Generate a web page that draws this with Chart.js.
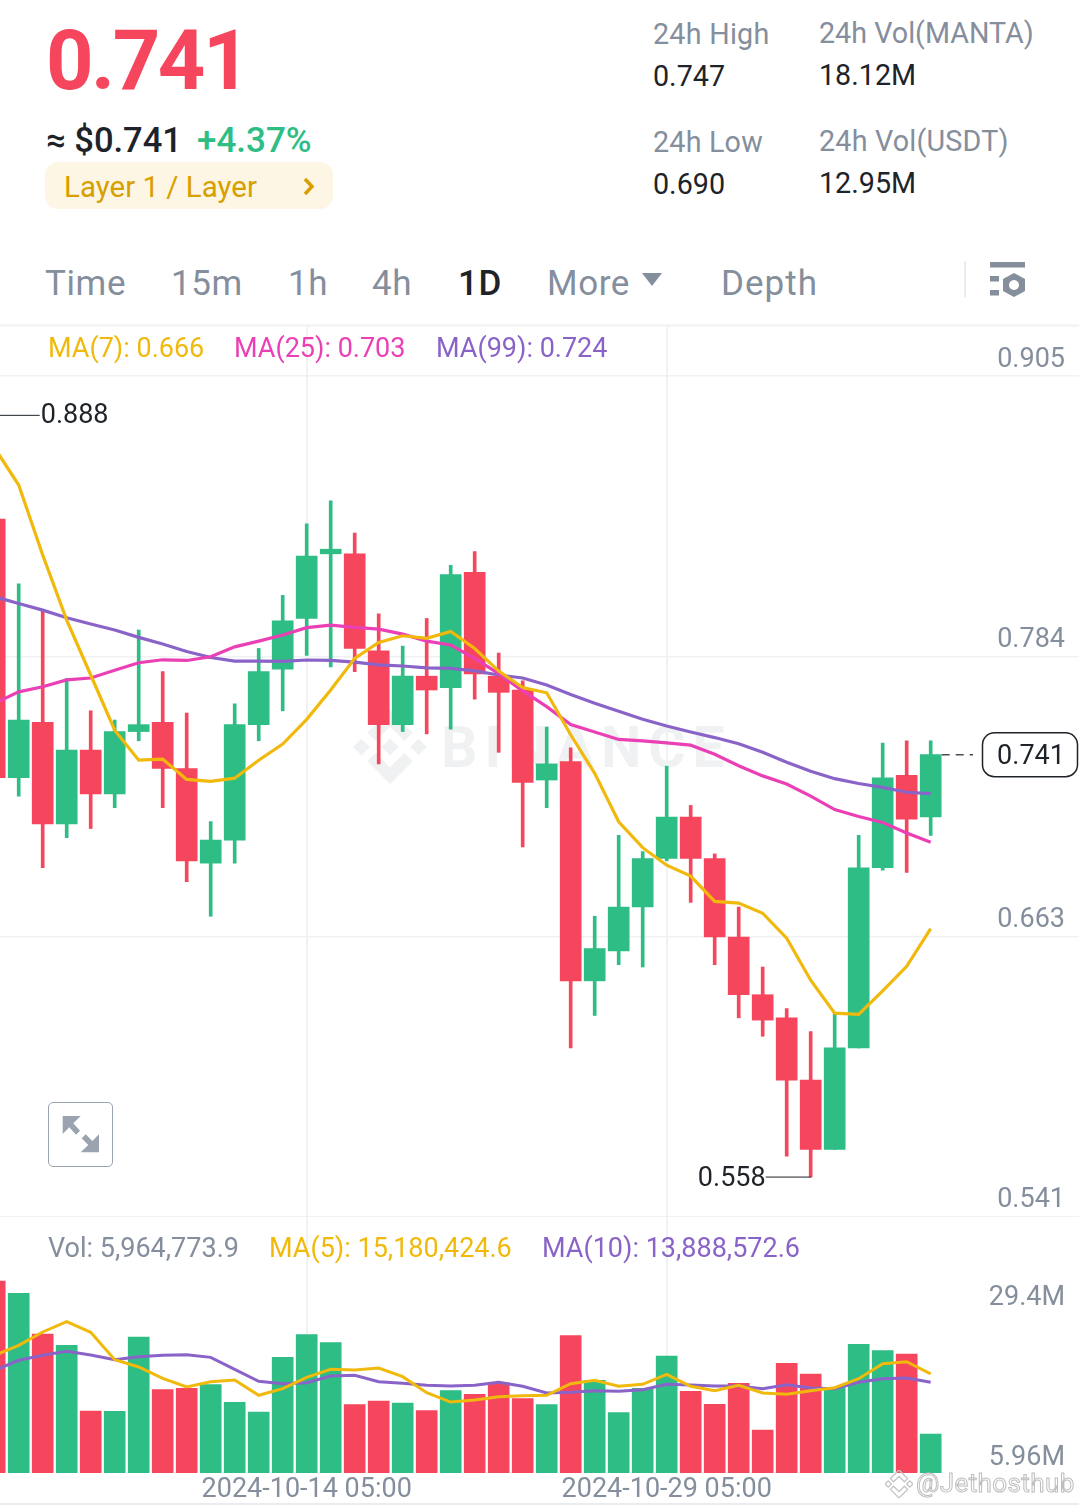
<!DOCTYPE html>
<html>
<head>
<meta charset="utf-8">
<title>MANTA/USDT 1D</title>
<script src="https://cdn.jsdelivr.net/npm/chart.js@4"></script>
<style>
html, body { margin: 0; padding: 0; background: #fff; }
#page { position: relative; width: 1079px; height: 1505px; overflow: hidden; font-family: Roboto, sans-serif; }
.t { position: absolute; white-space: nowrap; transform: translateY(-50%); line-height: 1; }
.grey { color: #848e9c; }
.dark { color: #1e2329; }
canvas { position: absolute; left: 0; display: block; }
.stat { font-size: 28.7px; }
.tab { font-size: 35px; color: #848e9c; letter-spacing: 0.6px; }
.leg { font-size: 27px; }
</style>
</head>
<body>
<div id="page">
  <!-- watermark sits under the canvases -->
  <svg style="position:absolute;left:353px;top:710px" width="74" height="74" viewBox="0 0 126.61 126.61" fill="#eff1f2"><path d="M38.73 53.2l24.59-24.58 24.6 24.6 14.3-14.31L63.32 0l-38.9 38.9zM0 63.31l14.3-14.31 14.31 14.31-14.31 14.3zM38.73 73.41l24.59 24.59 24.6-24.6 14.31 14.29-38.9 38.91-38.91-38.88-.02-.02zM98 63.31l14.3-14.31 14.31 14.3-14.31 14.32z"/><path d="M77.83 63.3L63.32 48.78 52.59 59.51l-1.24 1.23-2.54 2.54 14.51 14.5 14.51-14.47z"/></svg>
  <div class="t" style="left:441px;top:747px;font-size:57px;font-weight:700;color:#eff1f2;letter-spacing:7px">BINANCE</div>

  <canvas id="priceChart" width="1079" height="891" style="top:326px"></canvas>
  <canvas id="volChart" width="1079" height="289" style="top:1216px"></canvas>

  <div class="t" style="left:46px;top:60px;font-size:83px;font-weight:700;color:#f6465d;letter-spacing:-2.5px">0.741</div>
  <div class="t dark" style="left:46px;top:140px;font-size:34.5px;font-weight:500">≈ $0.741</div>
  <div class="t" style="left:197px;top:140px;font-size:35px;font-weight:500;color:#2ebd85">+4.37%</div>
  <div style="position:absolute;left:45px;top:162px;width:288px;height:47px;background:#fdf6e4;border-radius:13px"></div>
  <div class="t" style="left:64px;top:188px;font-size:29.5px;color:#d89f00">Layer 1 / Layer</div>
  <svg style="position:absolute;left:302px;top:177px" width="14" height="19" viewBox="0 0 14 19"><path d="M3 2l7 7.5-7 7.5" fill="none" stroke="#d89f00" stroke-width="3.5"/></svg>

  <div class="t grey stat" style="left:653px;top:34px;letter-spacing:.25px">24h High</div>
  <div class="t dark stat" style="left:653px;top:76px">0.747</div>
  <div class="t grey stat" style="left:653px;top:142px;letter-spacing:.2px">24h Low</div>
  <div class="t dark stat" style="left:653px;top:184px">0.690</div>
  <div class="t grey stat" style="left:819px;top:33px">24h Vol(MANTA)</div>
  <div class="t dark stat" style="left:819px;top:75px">18.12M</div>
  <div class="t grey stat" style="left:819px;top:141px;letter-spacing:.2px">24h Vol(USDT)</div>
  <div class="t dark stat" style="left:819px;top:183px">12.95M</div>

  <div class="t tab" style="left:45px;top:283px">Time</div>
  <div class="t tab" style="left:171px;top:283px">15m</div>
  <div class="t tab" style="left:288px;top:283px">1h</div>
  <div class="t tab" style="left:372px;top:283px">4h</div>
  <div class="t tab" style="left:458px;top:283px;color:#1e2329;font-weight:500">1D</div>
  <div class="t tab" style="left:547px;top:283px">More</div>
  <svg style="position:absolute;left:642px;top:273px" width="20" height="13"><path d="M0 0h20L10 13z" fill="#848e9c"/></svg>
  <div class="t tab" style="left:721px;top:283px;letter-spacing:1px">Depth</div>
  <div style="position:absolute;left:964px;top:261px;width:2px;height:36px;background:#eaecef"></div>
  <svg style="position:absolute;left:990px;top:262px" width="36" height="36" viewBox="0 0 36 36" fill="#848e9c"><rect x="0" y="0" width="35" height="5.5"/><rect x="0" y="14" width="9" height="5.5"/><rect x="0" y="28" width="9" height="5.5"/><path fill-rule="evenodd" d="M24 11l11 6v12l-11 6-11-6V17zM24 18a5 5 0 1 0 .01 0z"/></svg>
  <div style="position:absolute;left:0;top:324px;width:1079px;height:3px;background:#f5f5f5"></div>

  <div class="t leg" style="left:48px;top:348px;color:#f0b90b">MA(7): 0.666</div>
  <div class="t leg" style="left:234px;top:348px;color:#eb40b5">MA(25): 0.703</div>
  <div class="t leg" style="left:436px;top:348px;color:#8a63c8">MA(99): 0.724</div>

  <div class="t leg grey" style="left:48px;top:1248px">Vol: 5,964,773.9</div>
  <div class="t leg" style="left:269px;top:1248px;color:#f0b90b">MA(5): 15,180,424.6</div>
  <div class="t leg" style="left:542px;top:1248px;color:#8a63c8">MA(10): 13,888,572.6</div>

  <div style="position:absolute;left:48px;top:1102px;width:63px;height:63px;border:1.5px solid #9aa3af;border-radius:5px;background:#fff"></div>
  <svg style="position:absolute;left:62px;top:1116px" width="38" height="38" viewBox="0 0 38 38" fill="#9aa3af"><path d="M0.7 0h18l-7.4 7.3 6.7 7.4-4 4-6.7-7.4-6.6 6.7zM37 36.3H18.7l7.6-7.3-6.6-6.7 4-4 6.6 6.7 6.7-6.7z"/></svg>

  <svg style="position:absolute;left:885px;top:1470px" width="28" height="28" viewBox="0 0 126.61 126.61" fill="none" stroke="#c4c4c4" stroke-width="6"><path d="M38.73 53.2l24.59-24.58 24.6 24.6 14.3-14.31L63.32 0l-38.9 38.9zM0 63.31l14.3-14.31 14.31 14.31-14.31 14.3zM38.73 73.41l24.59 24.59 24.6-24.6 14.31 14.29-38.9 38.91-38.91-38.88-.02-.02zM98 63.31l14.3-14.31 14.31 14.3-14.31 14.32z"/></svg>
  <div class="t" style="left:916px;top:1483px;font-size:26px;color:rgba(255,255,255,.85);-webkit-text-stroke:1px #bdbdbd;letter-spacing:.4px">@Jethosthub</div>
  <div style="position:absolute;left:0;top:1503px;width:1079px;height:2px;background:#eaecef"></div>
</div>

<script>
// candles, oldest first (only the right edge of the first one is on screen)
const opens = [0.843, 0.731, 0.755, 0.711, 0.743, 0.724, 0.751, 0.755, 0.735, 0.694, 0.704, 0.754, 0.778, 0.800, 0.828, 0.828, 0.786, 0.754, 0.775, 0.770, 0.820, 0.775, 0.769, 0.730, 0.738, 0.643, 0.656, 0.675, 0.696, 0.714, 0.696, 0.662, 0.637, 0.627, 0.600, 0.570, 0.614, 0.692, 0.732, 0.714];
const highs = [0.888, 0.815, 0.804, 0.774, 0.760, 0.756, 0.795, 0.777, 0.759, 0.712, 0.763, 0.787, 0.810, 0.841, 0.851, 0.837, 0.802, 0.788, 0.800, 0.823, 0.829, 0.785, 0.773, 0.753, 0.744, 0.671, 0.706, 0.699, 0.736, 0.719, 0.698, 0.675, 0.649, 0.631, 0.621, 0.629, 0.706, 0.746, 0.747, 0.747];
const lows = [0.725, 0.723, 0.692, 0.705, 0.709, 0.718, 0.747, 0.718, 0.686, 0.671, 0.694, 0.747, 0.760, 0.784, 0.779, 0.777, 0.737, 0.751, 0.750, 0.752, 0.765, 0.742, 0.701, 0.718, 0.614, 0.628, 0.650, 0.649, 0.695, 0.677, 0.650, 0.627, 0.619, 0.567, 0.558, 0.570, 0.614, 0.691, 0.690, 0.706];
const closes = [0.731, 0.756, 0.711, 0.743, 0.724, 0.751, 0.754, 0.735, 0.695, 0.704, 0.754, 0.777, 0.799, 0.827, 0.830, 0.787, 0.754, 0.775, 0.769, 0.819, 0.776, 0.768, 0.729, 0.737, 0.643, 0.657, 0.675, 0.696, 0.714, 0.696, 0.662, 0.637, 0.626, 0.600, 0.570, 0.614, 0.692, 0.731, 0.713, 0.741];

const ma7 = [0.8738, 0.8578, 0.8275, 0.7993, 0.7755, 0.7516, 0.7386, 0.7391, 0.7303, 0.7294, 0.7308, 0.7386, 0.7456, 0.7563, 0.7690, 0.7827, 0.7896, 0.7925, 0.7914, 0.7944, 0.7870, 0.7772, 0.7701, 0.7678, 0.7496, 0.7329, 0.7119, 0.7007, 0.6931, 0.6884, 0.6774, 0.6767, 0.6723, 0.6615, 0.6433, 0.6290, 0.6285, 0.6387, 0.6493, 0.6656];
const ma25 = [0.7633, 0.7682, 0.7704, 0.7734, 0.7742, 0.7776, 0.7808, 0.7821, 0.7818, 0.7834, 0.7877, 0.7902, 0.7928, 0.7960, 0.7971, 0.7961, 0.7954, 0.7932, 0.7902, 0.7885, 0.7827, 0.7761, 0.7686, 0.7618, 0.7540, 0.7508, 0.7476, 0.7470, 0.7461, 0.7451, 0.7412, 0.7362, 0.7318, 0.7283, 0.7230, 0.7172, 0.7142, 0.7116, 0.7071, 0.7031];
const ma99 = [0.8094, 0.8065, 0.8036, 0.8003, 0.7976, 0.7950, 0.7918, 0.7889, 0.7857, 0.7831, 0.7815, 0.7815, 0.7814, 0.7820, 0.7818, 0.7811, 0.7799, 0.7794, 0.7786, 0.7784, 0.7773, 0.7755, 0.7742, 0.7712, 0.7671, 0.7633, 0.7598, 0.7563, 0.7534, 0.7508, 0.7484, 0.7457, 0.7420, 0.7377, 0.7338, 0.7306, 0.7285, 0.7268, 0.7247, 0.7241];

// volume in millions
const volumes = [29.38, 27.50, 21.27, 19.54, 9.49, 9.44, 20.81, 12.75, 12.96, 13.52, 10.82, 9.33, 17.70, 21.17, 19.94, 10.46, 11.02, 10.71, 9.54, 12.60, 12.04, 13.77, 11.37, 10.46, 21.02, 14.18, 9.23, 12.96, 17.90, 12.50, 10.51, 13.72, 6.58, 16.78, 15.15, 13.06, 19.69, 18.72, 18.21, 5.96];
const volMa5 = [18.0, 19.54, 21.58, 23.16, 21.53, 17.34, 16.22, 14.49, 13.16, 13.97, 14.23, 11.89, 12.90, 14.64, 15.87, 15.76, 16.07, 14.74, 12.29, 10.86, 11.17, 11.68, 11.83, 11.89, 13.67, 14.18, 13.27, 13.57, 15.10, 13.27, 12.60, 13.42, 12.24, 12.04, 12.60, 13.06, 14.43, 16.73, 17.03, 15.18];
const volMa10 = [15.7, 17.25, 18.01, 18.62, 18.06, 17.34, 17.80, 18.01, 18.10, 17.70, 15.87, 14.03, 13.67, 13.82, 14.84, 14.95, 13.97, 13.73, 13.42, 13.31, 13.42, 13.88, 13.27, 12.24, 12.35, 12.60, 12.50, 12.75, 13.57, 13.47, 13.31, 13.31, 12.90, 13.52, 13.01, 12.90, 13.88, 14.43, 14.54, 13.88];

// axis lines sit a little off the rounded numbers printed on them
const priceTicks = [0.905, 0.7835, 0.6622, 0.541];
const priceLabels = ["0.905", "0.784", "0.663", "0.541"];
const volTicks = [29.4, 5.96];
const timeTicks = [13, 28];
const timeLabels = ["2024-10-14 05:00", "2024-10-29 05:00"];
const lastPrice = 0.741;
const peakIndex = 0;
const troughIndex = 34;

const GREEN = "#2ebd85", RED = "#f6465d", GRID = "#eff1f3", AXIS = "#848e9c", INK = "#1e2329";
const FONT = "Roboto, sans-serif";

const candleColors = closes.map((c, i) => (c >= opens[i] ? GREEN : RED));
const xy = (arr) => arr.map((v, i) => ({ x: i, y: v }));
const span = (a, b) => a.map((v, i) => ({ x: i, y: [v, b[i]] }));

function xScale(showLabels) {
    return {
        type: "linear",
        min: 0.2208,
        max: 45.18,
        offset: false,
        border: { display: false },
        grid: { color: GRID, lineWidth: 2, drawTicks: false, offset: false },
        afterBuildTicks: (s) => { s.ticks = timeTicks.map((v) => ({ value: v })); },
        afterFit: (s) => { s.height = showLabels ? 32 : 0; },
        ticks: {
            display: showLabels,
            autoSkip: false,
            maxRotation: 0,
            padding: 1,
            color: AXIS,
            font: { family: FONT, size: 27 },
            callback: (v) => timeLabels[timeTicks.indexOf(v)],
        },
    };
}

function line(data, color, width) {
    return { type: "line", data: xy(data), borderColor: color, borderWidth: width, pointRadius: 0, tension: 0, order: 0 };
}

// high / low callouts and the last price tag
const priceMarks = {
    id: "priceMarks",
    afterDraw(chart) {
        const { ctx, scales: { x, y } } = chart;
        ctx.save();
        ctx.font = "27px " + FONT;
        ctx.textBaseline = "middle";
        ctx.strokeStyle = INK;
        ctx.lineWidth = 1;

        const hx = x.getPixelForValue(peakIndex), hy = y.getPixelForValue(highs[peakIndex]);
        ctx.beginPath(); ctx.moveTo(hx, hy); ctx.lineTo(hx + 45, hy); ctx.stroke();
        ctx.fillStyle = INK;
        ctx.textAlign = "left";
        ctx.fillText(highs[peakIndex].toFixed(3), hx + 46, hy + 0.5);

        const lx = x.getPixelForValue(troughIndex), ly = y.getPixelForValue(lows[troughIndex]);
        ctx.beginPath(); ctx.moveTo(lx, ly); ctx.lineTo(lx - 45, ly); ctx.stroke();
        ctx.textAlign = "right";
        ctx.fillText(lows[troughIndex].toFixed(3), lx - 45, ly + 2);

        const py = y.getPixelForValue(lastPrice);
        ctx.strokeStyle = "#474d57";
        ctx.lineWidth = 1.5;
        ctx.setLineDash([8, 6]);
        ctx.beginPath(); ctx.moveTo(x.getPixelForValue(39) + 11, py); ctx.lineTo(973, py); ctx.stroke();
        ctx.setLineDash([]);
        ctx.strokeStyle = INK;
        ctx.beginPath(); ctx.roundRect(982.5, py - 22, 95, 44, 12); ctx.stroke();
        ctx.textAlign = "center";
        ctx.fillText(lastPrice.toFixed(3), 1031, py + 3);
        ctx.restore();
    },
};

// the volume labels hang below their values, by a different amount each
const volLabels = {
    id: "volLabels",
    afterDraw(chart) {
        const { ctx, scales: { y } } = chart;
        const drop = [17, 24];
        ctx.save();
        ctx.font = "27px " + FONT;
        ctx.fillStyle = AXIS;
        ctx.textAlign = "right";
        ctx.textBaseline = "middle";
        volTicks.forEach((v, i) => ctx.fillText(v + "M", 1065, y.getPixelForValue(v) + drop[i]));
        ctx.restore();
    },
};

new Chart(document.getElementById("priceChart"), {
    type: "bar",
    data: {
        datasets: [
            line(ma7, "#f0b90b", 3.2),
            line(ma25, "#eb40b5", 3.2),
            line(ma99, "#8a63c8", 3.2),
            { data: span(opens, closes), backgroundColor: candleColors, barThickness: 21, grouped: false, order: 1 },
            { data: span(lows, highs), backgroundColor: candleColors, barThickness: 3, grouped: false, order: 2 },
        ],
    },
    options: {
        responsive: false,
        animation: false,
        layout: { autoPadding: false, padding: 0 },
        plugins: { legend: { display: false }, tooltip: { enabled: false } },
        scales: {
            x: xScale(false),
            y: {
                position: "right",
                min: 0.5407,
                max: 0.9267,
                border: { display: false },
                grid: { color: GRID, lineWidth: 1.5, drawTicks: false },
                afterBuildTicks: (s) => { s.ticks = priceTicks.map((v) => ({ value: v })); },
                afterFit: (s) => { s.width = 0; s.paddingTop = 0; s.paddingBottom = 0; },
                ticks: {
                    mirror: true,
                    padding: -14,
                    labelOffset: -16,
                    color: AXIS,
                    font: { family: FONT, size: 27 },
                    callback: (v, i) => priceLabels[i],
                },
            },
        },
    },
    plugins: [priceMarks],
});

new Chart(document.getElementById("volChart"), {
    type: "bar",
    data: {
        datasets: [
            line(volMa5, "#f0b90b", 3),
            line(volMa10, "#8a63c8", 3),
            { data: xy(volumes), backgroundColor: candleColors, barThickness: 21, grouped: false, order: 1 },
        ],
    },
    options: {
        responsive: false,
        animation: false,
        layout: { autoPadding: false, padding: 0 },
        plugins: { legend: { display: false }, tooltip: { enabled: false } },
        scales: {
            x: xScale(true),
            y: { display: false, min: 0, max: 39.33 },
        },
    },
    plugins: [volLabels],
});
</script>
</body>
</html>
